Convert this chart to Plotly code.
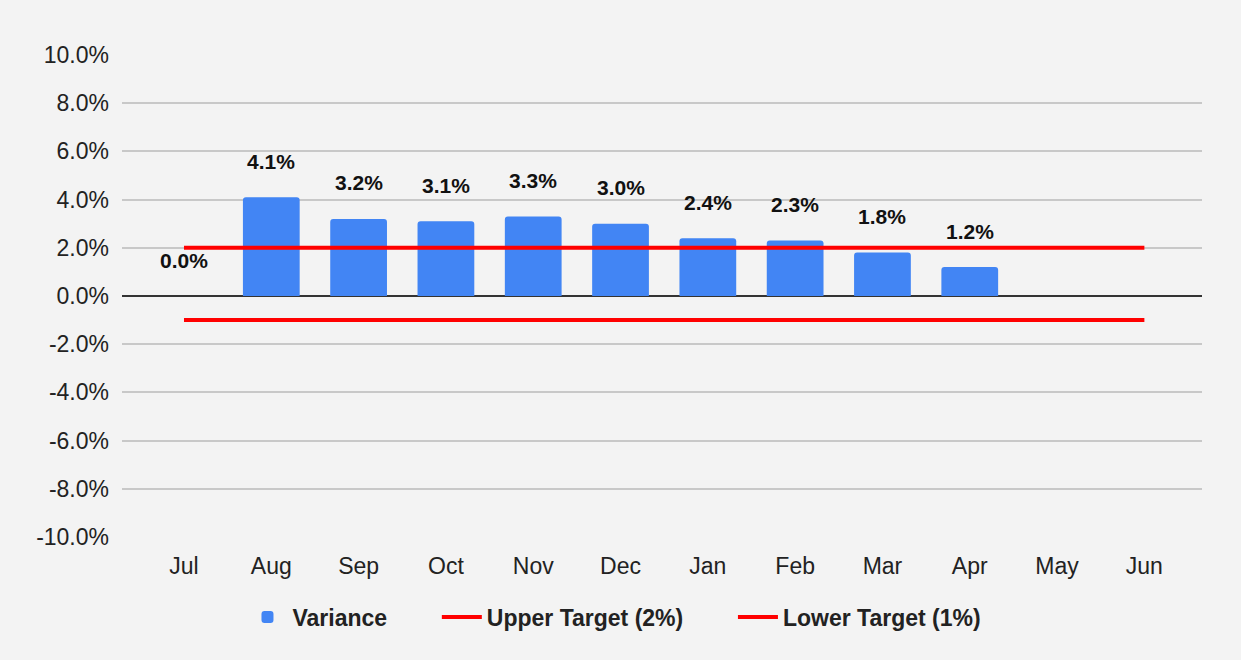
import plotly.graph_objects as go

months = ["Jul", "Aug", "Sep", "Oct", "Nov", "Dec", "Jan", "Feb", "Mar", "Apr", "May", "Jun"]
variance = [0.000, 0.041, 0.032, 0.031, 0.033, 0.030, 0.024, 0.023, 0.018, 0.012, None, None]
upper_target = [0.02, 0.02, 0.02, 0.02, 0.02, 0.02, 0.02, 0.02, 0.02, 0.02, 0.02, 0.02]
lower_target = [-0.01, -0.01, -0.01, -0.01, -0.01, -0.01, -0.01, -0.01, -0.01, -0.01, -0.01, -0.01]
y_ticks = [-0.10, -0.08, -0.06, -0.04, -0.02, 0.0, 0.02, 0.04, 0.06, 0.08, 0.10]
y_tick_labels = ["-10.0%", "-8.0%", "-6.0%", "-4.0%", "-2.0%", "0.0%", "2.0%", "4.0%", "6.0%", "8.0%", "10.0%"]
series_names = ["Variance", "Upper Target (2%)", "Lower Target (1%)"]

FONT = "Liberation Sans, Arial, sans-serif"
BG = "#f3f3f3"
PAD = "\u00a0" * 7  # extra spacing after legend entries

fig = go.Figure()
fig.add_trace(go.Bar(
    x=months, y=variance, name=series_names[0] + PAD,
    marker=dict(color="#4285F4", cornerradius=3, line=dict(width=0)),
    width=0.65,
))
fig.add_trace(go.Scatter(
    x=months, y=upper_target, name=series_names[1] + PAD, mode="lines",
    line=dict(color="#FF0000", width=4),
))
fig.add_trace(go.Scatter(
    x=months, y=lower_target, name=series_names[2], mode="lines",
    line=dict(color="#FF0000", width=4),
))

for m, v in zip(months, variance):
    if v is None:
        continue
    fig.add_annotation(
        x=m, y=v, text=f"<b>{v*100:.1f}%</b>", showarrow=False,
        yanchor="middle", yshift=36,
        font=dict(family=FONT, size=21, color="#111111"),
    )

fig.update_layout(
    width=1241, height=660,
    paper_bgcolor=BG, plot_bgcolor=BG,
    margin=dict(l=122, r=39, t=55, b=123),
    font=dict(family=FONT, size=23, color="#222222"),
    showlegend=True,
    legend=dict(
        orientation="h", x=0.456, xanchor="center", y=-0.166, yanchor="middle",
        font=dict(family=FONT, size=23, color="#222222", weight="bold"),
        bgcolor="rgba(0,0,0,0)", itemwidth=40,
    ),
    xaxis=dict(
        type="category", categoryorder="array", categoryarray=months,
        range=[-0.71, 11.66], showgrid=False, zeroline=False, showline=False,
        ticks="", ticklabelstandoff=13,
        tickfont=dict(family=FONT, size=23, color="#222222"),
        fixedrange=True,
    ),
    yaxis=dict(
        range=[-0.10, 0.10], tickvals=y_ticks, ticktext=y_tick_labels,
        showgrid=True, gridcolor="#c8c8c8", gridwidth=1.5,
        zeroline=True, zerolinecolor="#333333", zerolinewidth=2,
        showline=False, ticks="", ticklabelstandoff=12,
        tickfont=dict(family=FONT, size=23, color="#222222"),
        fixedrange=True,
    ),
)

fig.write_html(
    "out.html",
    config={"displayModeBar": False},
    post_script="document.body.style.margin='0';document.body.style.background='#f3f3f3';document.body.style.overflow='hidden';",
)
